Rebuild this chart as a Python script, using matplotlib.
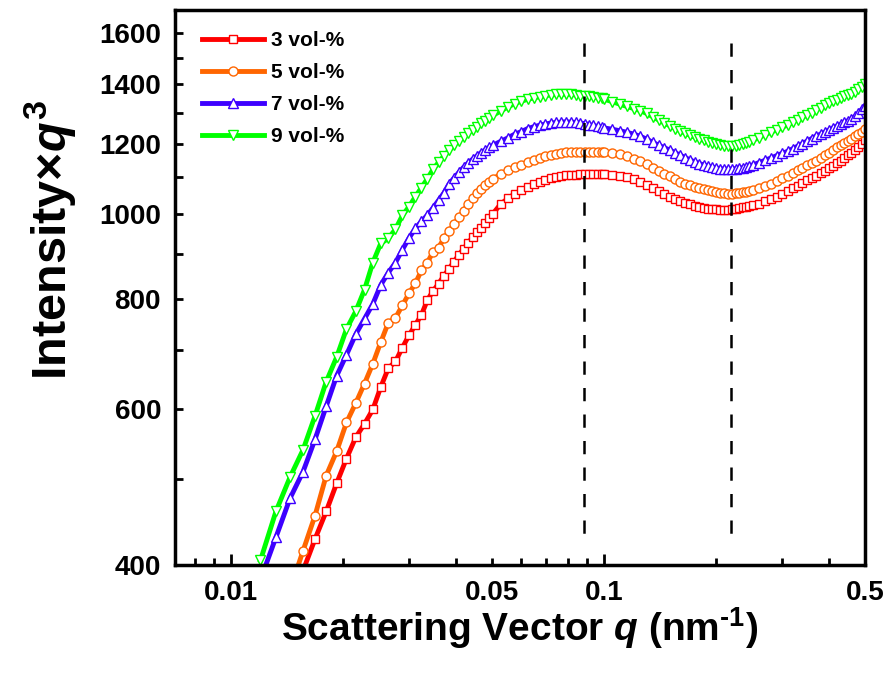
import numpy as np
import matplotlib
matplotlib.use('Agg')
import matplotlib.pyplot as plt
from matplotlib.ticker import FixedLocator, FuncFormatter, NullFormatter

plt.rcParams['font.family'] = 'Liberation Sans'
plt.rcParams['font.weight'] = 'bold'
plt.rcParams['mathtext.fontset'] = 'custom'
plt.rcParams['mathtext.rm'] = 'Liberation Sans:bold'
plt.rcParams['mathtext.it'] = 'Liberation Sans:italic:bold'
plt.rcParams['mathtext.bf'] = 'Liberation Sans:bold'

# scattering vector (nm^-1)
q = [0.0120, 0.0132, 0.0144, 0.0156, 0.0168, 0.0180, 0.0192, 0.0204, 0.0216, 0.0228,
     0.0240, 0.0252, 0.0264, 0.0276, 0.0288, 0.0300, 0.0312, 0.0324, 0.0336, 0.0348,
     0.0360, 0.0372, 0.0384, 0.0396, 0.0408, 0.0420, 0.0432, 0.0444, 0.0456, 0.0468,
     0.0480, 0.0492, 0.0504,
     0.0528, 0.0552, 0.0576, 0.0600, 0.0624, 0.0648, 0.0672, 0.0696, 0.0720, 0.0744,
     0.0768, 0.0792, 0.0816, 0.0840, 0.0864, 0.0888, 0.0912, 0.0936, 0.0960, 0.0984,
     0.100, 0.105, 0.110, 0.115, 0.120, 0.125, 0.130, 0.135, 0.140, 0.145,
     0.150, 0.155, 0.160, 0.165, 0.170, 0.175, 0.180, 0.185, 0.190, 0.195,
     0.200, 0.205, 0.210, 0.215, 0.220, 0.225, 0.230, 0.235, 0.240, 0.245,
     0.250,
     0.26, 0.27, 0.28, 0.29, 0.30, 0.31, 0.32, 0.33, 0.34, 0.35,
     0.36, 0.37, 0.38, 0.39, 0.40, 0.41, 0.42, 0.43, 0.44, 0.45,
     0.46, 0.47, 0.48, 0.49, 0.50]

# Intensity x q^3
vol3 = [290, 325, 360, 394, 428, 460, 495, 528, 558, 578,
        600, 636, 668, 680, 705, 728, 748, 768, 798, 817,
        833, 850, 866, 882, 898, 912, 926, 940, 952, 964,
        976, 988, 1000,
        1025, 1040, 1053, 1063, 1072, 1079, 1086, 1092, 1097, 1100,
        1103, 1105, 1106, 1107, 1108, 1109, 1110, 1110, 1110, 1110,
        1109, 1107, 1104, 1099, 1093, 1086, 1078, 1069, 1060, 1052,
        1045, 1039, 1033, 1028, 1024, 1020, 1017, 1015, 1013, 1012,
        1011, 1010, 1010, 1010, 1011, 1013, 1014, 1016, 1018, 1020,
        1022,
        1026, 1032, 1038, 1045, 1052, 1060, 1068, 1075, 1082, 1090,
        1097, 1104, 1111, 1118, 1126, 1133, 1140, 1148, 1156, 1164,
        1172, 1180, 1190, 1200, 1210]
vol5 = [305, 340, 375, 415, 455, 505, 538, 580, 610, 642,
        676, 715, 752, 762, 787, 812, 834, 862, 880, 905,
        915, 937, 955, 972, 990, 1007, 1025, 1040, 1054, 1065,
        1076, 1086, 1095,
        1108, 1119, 1128, 1136, 1145, 1151, 1157, 1162, 1166, 1169,
        1171, 1173, 1174, 1175, 1175, 1175, 1175, 1175, 1175, 1174,
        1173, 1171, 1167, 1161, 1154, 1146, 1137, 1127, 1118, 1110,
        1102, 1094, 1087, 1081, 1076, 1072, 1068, 1065, 1062, 1060,
        1058, 1056, 1054, 1053, 1053, 1054, 1055, 1057, 1059, 1061,
        1063,
        1068, 1074, 1081, 1088, 1096, 1104, 1112, 1120, 1127, 1134,
        1141, 1148, 1156, 1164, 1172, 1180, 1188, 1195, 1202, 1209,
        1216, 1223, 1230, 1237, 1245]
vol7 = [385, 430, 476, 510, 555, 605, 655, 692, 730, 760,
        790, 830, 857, 880, 910, 938, 962, 980, 996, 1015,
        1035, 1055, 1080, 1097, 1113, 1128, 1141, 1152, 1162, 1172,
        1180, 1188, 1195,
        1207, 1218, 1230, 1238, 1248, 1254, 1259, 1263, 1266, 1268,
        1269, 1270, 1269, 1268, 1266, 1264, 1261, 1258, 1255, 1252,
        1250, 1246, 1241, 1236, 1230, 1223, 1214, 1204, 1195, 1187,
        1180, 1172, 1164, 1157, 1150, 1144, 1139, 1135, 1131, 1128,
        1126, 1124, 1123, 1123, 1123, 1124, 1125, 1127, 1129, 1132,
        1135,
        1142, 1149, 1156, 1163, 1170, 1176, 1184, 1192, 1200, 1208,
        1216, 1224, 1230, 1236, 1243, 1250, 1256, 1262, 1268, 1274,
        1280, 1288, 1298, 1312, 1325]
vol9 = [405, 460, 503, 540, 590, 645, 688, 740, 775, 820,
        880, 925, 937, 960, 995, 1018, 1045, 1070, 1095, 1122,
        1143, 1162, 1179, 1195, 1209, 1222, 1233, 1244, 1254, 1265,
        1274, 1283, 1292,
        1306, 1320, 1332, 1340, 1347, 1352, 1356, 1360, 1362, 1364,
        1365, 1365, 1364, 1362, 1360, 1358, 1357, 1355, 1353, 1350,
        1347, 1339, 1330, 1322, 1315, 1308, 1298, 1287, 1276, 1266,
        1257, 1248, 1240, 1233, 1226, 1220, 1214, 1210, 1206, 1202,
        1199, 1196, 1194, 1193, 1193, 1194, 1196, 1198, 1202, 1206,
        1210,
        1219, 1228, 1236, 1244, 1252, 1260, 1268, 1277, 1285, 1293,
        1301, 1309, 1318, 1326, 1333, 1340, 1346, 1352, 1357, 1362,
        1367, 1374, 1382, 1390, 1400]

labels = ['3 vol-%', '5 vol-%', '7 vol-%', '9 vol-%']
peaks_q = [0.0884, 0.2186]

colors = ['#FF0000', '#FF6600', '#3D00FF', '#00FF00']
markers = ['s', 'o', '^', 'v']
msizes = [6, 6.5, 7, 7]

fig = plt.figure(figsize=(8.9, 6.76), dpi=100)
ax = fig.add_axes([0.1966, 0.1642, 0.7753, 0.8210])

for vals, lab, col, mk, ms in zip([vol3, vol5, vol7, vol9], labels, colors, markers, msizes):
    ax.plot(q, vals, color=col, lw=3.5, marker=mk, ms=ms, mfc='white',
            mec=col, mew=1.0, label=lab)

# dashed guides, drawn top-down so the dash pattern starts at the top
for qp in peaks_q:
    ax.plot([qp, qp], [1560, 420], color='black', lw=1.8,
            linestyle=(0, (5.3, 5.3)))

ax.set_xscale('log')
ax.set_yscale('log')
ax.set_xlim(0.00708, 0.5)
ax.set_ylim(400, 1700)

ax.xaxis.set_major_locator(FixedLocator([0.01, 0.1]))
ax.xaxis.set_minor_locator(FixedLocator([0.008, 0.009, 0.02, 0.03, 0.04, 0.05, 0.06,
                                         0.07, 0.08, 0.09, 0.2, 0.3, 0.4, 0.5]))
ax.xaxis.set_major_formatter(FuncFormatter(lambda v, p: '%g' % v))
ax.xaxis.set_minor_formatter(FuncFormatter(
    lambda v, p: '%g' % v if abs(v - 0.05) < 1e-6 or abs(v - 0.5) < 1e-6 else ''))
ax.yaxis.set_major_locator(FixedLocator([400, 600, 800, 1000, 1200, 1400, 1600]))
ax.yaxis.set_minor_locator(FixedLocator([500, 700, 900, 1100, 1300, 1500]))
ax.yaxis.set_major_formatter(FuncFormatter(lambda v, p: '%d' % v))
ax.yaxis.set_minor_formatter(NullFormatter())

ax.tick_params(axis='both', which='both', direction='in', width=2,
               labelsize=20, top=False, right=False)
ax.tick_params(axis='x', which='major', length=8, pad=11)
ax.tick_params(axis='x', which='minor', length=5, pad=11)
ax.tick_params(axis='y', which='both', length=6, pad=10)
for s in ax.spines.values():
    s.set_linewidth(2.5)

ax.legend(loc='upper left', bbox_to_anchor=(0.039, 0.962), frameon=False,
          borderpad=0, borderaxespad=0, handlelength=3.0, handletextpad=0.3,
          labelspacing=0.62, numpoints=1, prop={'size': 15, 'weight': 'bold'})

fig.text(520 / 890, 1 - 628 / 676, 'Scattering Vector $q$ (nm$^{\\text{-1}}$)',
         ha='center', va='center', fontsize=28)
fig.text(50 / 890, 1 - 240 / 676, 'Intensity\u00d7$q^{3}$',
         ha='center', va='center', rotation=90, fontsize=35)

fig.savefig('out.png', dpi=100)
